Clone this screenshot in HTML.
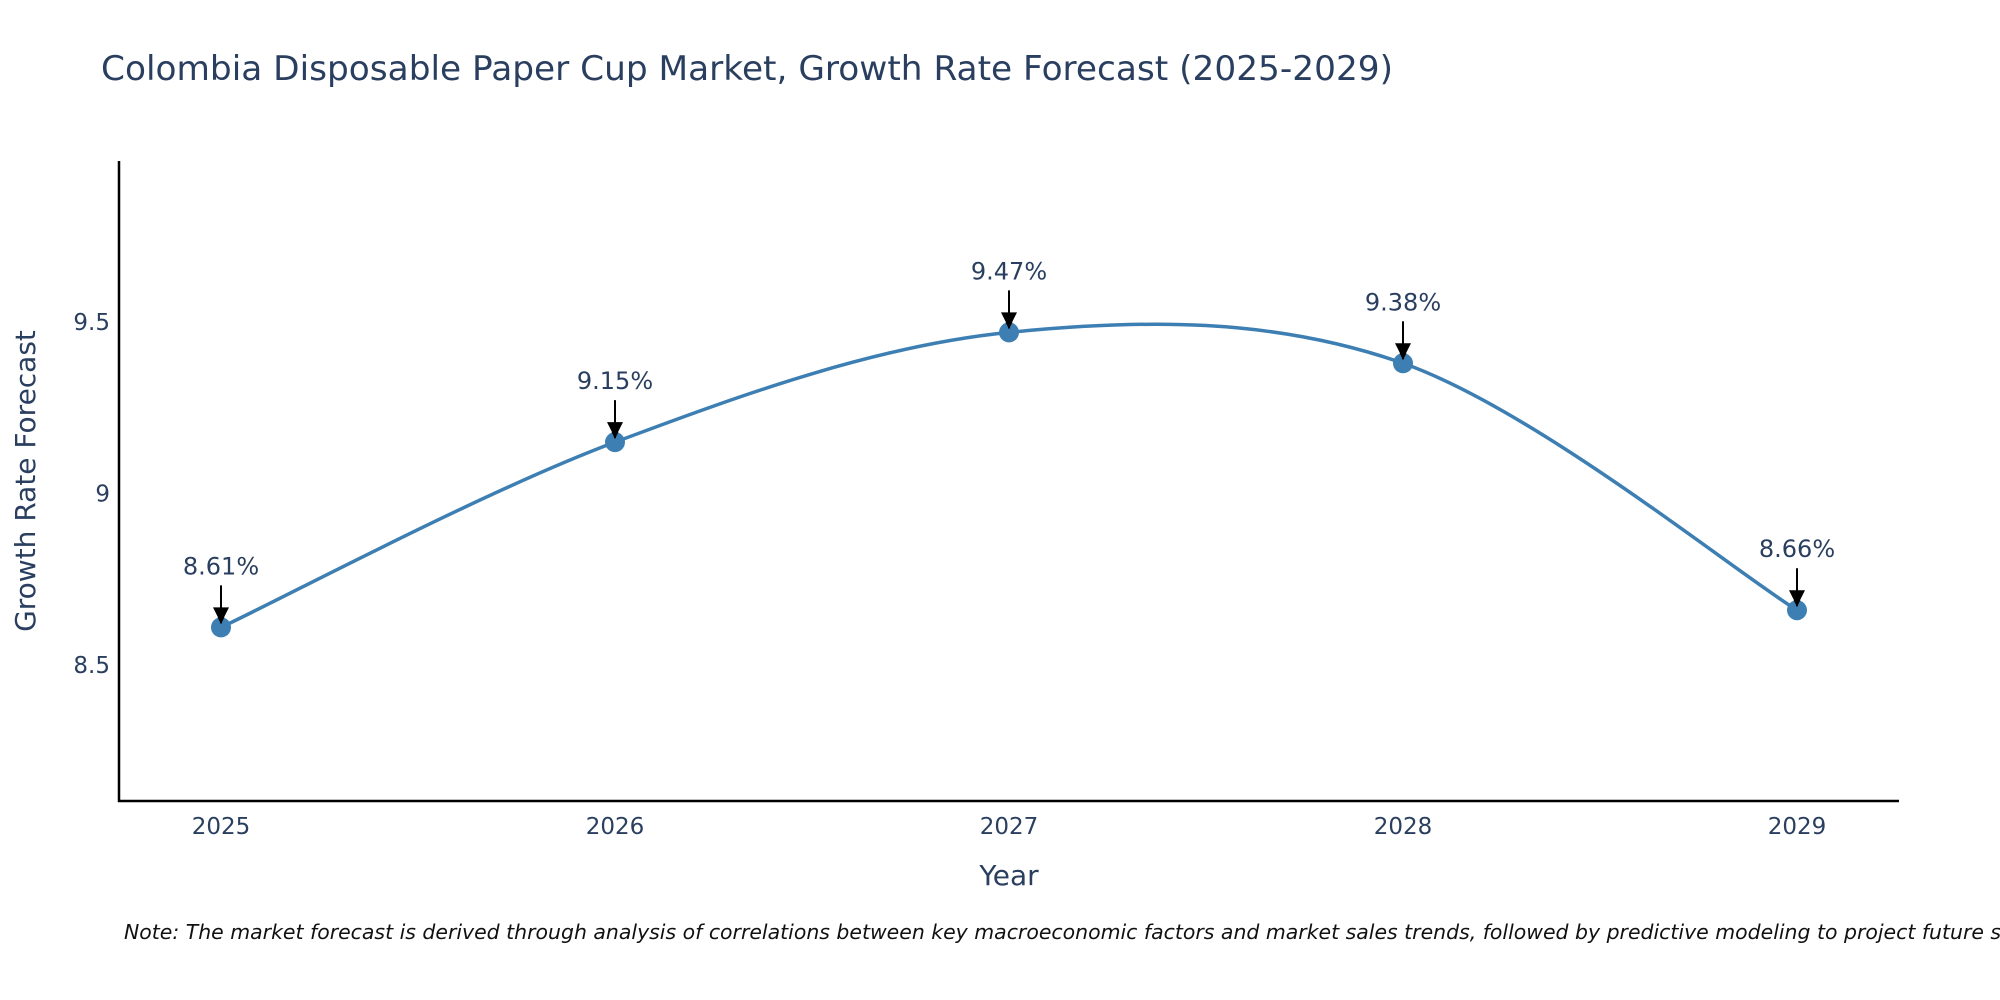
<!DOCTYPE html>
<html><head><meta charset="utf-8"><style>
html,body{margin:0;padding:0;background:#fff;}
svg{display:block;font-family:"DejaVu Sans","Liberation Sans",sans-serif;}
</style></head><body>
<svg id="chart" width="2000" height="1000" viewBox="0 0 2000 1000">
<text x="101" y="80" font-size="34" fill="#2a3f5f" textLength="1292" lengthAdjust="spacingAndGlyphs">Colombia Disposable Paper Cup Market, Growth Rate Forecast (2025-2029)</text>
<g id="yticks"></g>
<g id="xticks"></g>
<line x1="119" y1="161" x2="119" y2="802" stroke="#000" stroke-width="2.5"/>
<line x1="118" y1="801" x2="1899" y2="801" stroke="#000" stroke-width="2.5"/>
<text x="35" y="481" font-size="28" fill="#2a3f5f" text-anchor="middle" transform="rotate(-90 35 481)">Growth Rate Forecast</text>
<text x="1009" y="885" font-size="28" fill="#2a3f5f" text-anchor="middle">Year</text>
<path id="line" fill="none" stroke="#3d7fb3" stroke-width="3.5"/>
<g id="points"></g>
<text x="124" y="939" font-size="20" font-style="italic" fill="#111" textLength="1925" lengthAdjust="spacingAndGlyphs">Note: The market forecast is derived through analysis of correlations between key macroeconomic factors and market sales trends, followed by predictive modeling to project future sales.</text>
<defs><marker id="ah" viewBox="0 0 10 10" refX="9" refY="5" markerWidth="7" markerHeight="7" markerUnits="userSpaceOnUse" orient="auto"><path d="M0,0L10,5L0,10z" fill="#000"/></marker></defs>
</svg>
<script>
const years = [2025, 2026, 2027, 2028, 2029];
const values = [8.61, 9.15, 9.47, 9.38, 8.66];
const yTickValues = [8.5, 9, 9.5];
const yTickLabels = ["8.5", "9", "9.5"];
const NS = "http://www.w3.org/2000/svg";
const xs = i => 221 + (1797 - 221) * (years[i] - years[0]) / (years[years.length-1] - years[0]);
const ys = v => 493.6 - (v - 9) * 343;
function mk(tag, attrs, parent) { const e = document.createElementNS(NS, tag); for (const k in attrs) e.setAttribute(k, attrs[k]); parent.appendChild(e); return e; }
const yt = document.getElementById("yticks");
yTickValues.forEach((v, i) => {
  const t = mk("text", {x: 110, y: ys(v) + 8, "font-size": 23, fill: "#2a3f5f", "text-anchor": "end"}, yt);
  t.textContent = yTickLabels[i];
  
  
});
const xt = document.getElementById("xticks");
years.forEach((y, i) => {
  const t = mk("text", {x: xs(i), y: 834, "font-size": 23, fill: "#2a3f5f", "text-anchor": "middle"}, xt);
  t.textContent = String(y);
  
  
});
const P = values.map((v, i) => [xs(i), ys(v)]);
let d = "M" + P[0][0] + "," + P[0][1];
for (let i = 0; i < P.length - 1; i++) {
  const p0 = P[Math.max(i-1,0)], p1 = P[i], p2 = P[i+1], p3 = P[Math.min(i+2,P.length-1)];
  const c1 = [p1[0] + (p2[0]-p0[0])/6, p1[1] + (p2[1]-p0[1])/6];
  const c2 = [p2[0] - (p3[0]-p1[0])/6, p2[1] - (p3[1]-p1[1])/6];
  d += " C" + c1 + " " + c2 + " " + p2;
}
document.getElementById("line").setAttribute("d", d);
const pts = document.getElementById("points");
P.forEach((p, i) => {
  const c = mk("circle", {cx: p[0], cy: p[1], r: 10, fill: "#3d7fb3"}, pts);
  
  
  const a = mk("line", {x1: p[0], y1: p[1] - 42, x2: p[0], y2: p[1] - 4, stroke: "#000", "stroke-width": 2, "marker-end": "url(#ah)"}, pts);
  
  
  const h = mk("path", {d: "M" + (p[0]-8) + "," + (p[1]-20) + " L" + (p[0]+8) + "," + (p[1]-20) + " L" + p[0] + "," + (p[1]-4) + "Z", fill: "#000"}, pts);
  
  
  const t = mk("text", {x: p[0], y: p[1] - 53, "font-size": 24, fill: "#2a3f5f", "text-anchor": "middle"}, pts);
  t.textContent = values[i].toFixed(2) + "%";
  
  
});
</script>
</body></html>
